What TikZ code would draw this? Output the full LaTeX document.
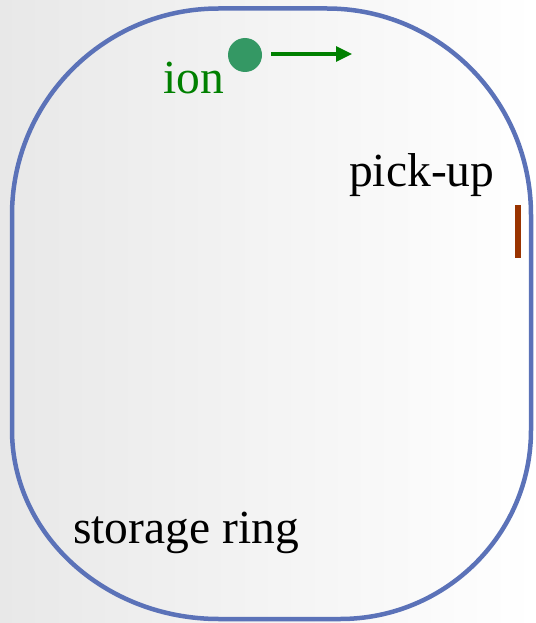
\documentclass[tikz,border=0pt]{standalone}
\usepackage{fontspec}
\setmainfont{Liberation Serif}
\usetikzlibrary{arrows.meta}
\definecolor{ringblue}{RGB}{91,114,184}
\definecolor{iongreen}{RGB}{52,152,100}
\definecolor{arrowgreen}{RGB}{0,128,0}
\definecolor{pickbrown}{RGB}{153,51,0}
\definecolor{bggray}{RGB}{232,232,232}
\begin{document}
\begin{tikzpicture}[x=1pt,y=1pt,
  ring/.style={draw=ringblue,line width=4.5pt},
  lbl/.style={anchor=base west,inner sep=0pt,font=\fontsize{47.5}{52}\selectfont},
  ionstyle/.style={circle,fill=iongreen,minimum size=34pt,inner sep=0pt},
  pickbar/.style={fill=pickbrown,draw=none}]
\useasboundingbox (0,0) rectangle (535,-623);
\shade[left color=bggray,right color=white,middle color=white!50!bggray] (0,0) rectangle (535,-623);
% ring
\path[ring] (12,-215) arc[start angle=180,end angle=90,radius=206.5]
  -- (327,-8.5) arc[start angle=90,end angle=0,x radius=204,y radius=206.5]
  -- (531,-430) arc[start angle=0,end angle=-90,x radius=191,y radius=189]
  -- (219,-619) arc[start angle=270,end angle=180,x radius=207,y radius=189]
  -- cycle;
% ion
\node[ionstyle] (ion) at (245,-55) {};
\coordinate (arrowend) at (352,-54);
\draw[arrowgreen,line width=3.2pt,-{Triangle[length=16pt,width=15pt]}] (ion.east) ++(9,1) coordinate (arrowstart) (arrowstart) -- (arrowend);
\node[lbl,text=arrowgreen] (ionlabel) at (163,-94) {ion};
% pick-up
\node[lbl] (pickuplabel) at (349,-186) {pick-up};
\path[pickbar] (515,-205) rectangle (521,-258);
% storage ring label
\node[lbl] (ringlabel) at (73,-543) {storage ring};
\end{tikzpicture}
\end{document}
